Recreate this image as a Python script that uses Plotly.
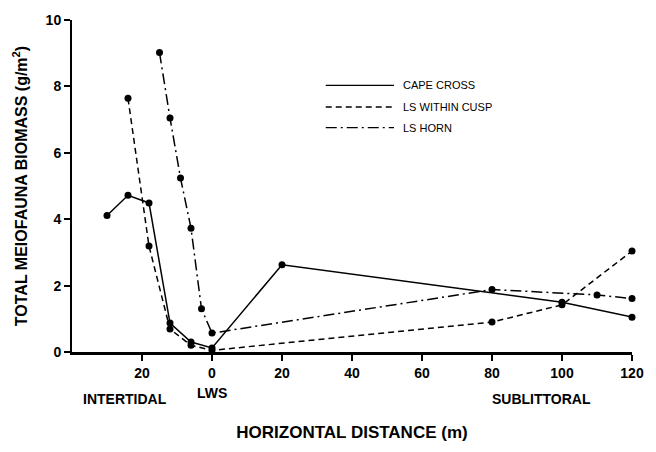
import plotly.graph_objects as go

# Data (horizontal distance in m; negative = intertidal side of LWS)
x_cape = [-30, -24, -18, -12, -6, 0, 20, 100, 120]
y_cape = [4.11, 4.72, 4.49, 0.87, 0.30, 0.12, 2.63, 1.50, 1.05]

x_cusp = [-24, -18, -12, -6, 0, 80, 100, 120]
y_cusp = [7.64, 3.19, 0.69, 0.20, 0.05, 0.90, 1.42, 3.04]

x_horn = [-15, -12, -9, -6, -3, 0, 80, 110, 120]
y_horn = [9.02, 7.05, 5.24, 3.73, 1.30, 0.57, 1.88, 1.72, 1.61]

series_names = ["CAPE CROSS", "LS WITHIN CUSP", "LS HORN"]

x_tickvals = [-20, 0, 20, 40, 60, 80, 100, 120]
x_ticktext = ["20", "0", "20", "40", "60", "80", "100", "120"]
y_tickvals = [0, 2, 4, 6, 8, 10]

FONT = "Liberation Sans, Arial, sans-serif"
dashes = ["solid", "6px,4px", "11px,4px,2px,4px"]

W, H = 656, 452
L, R, T, B = 72, 15, 17, 75
PW, PH = W - L - R, H - T - B


def px2paper(xp, yp):
    return (xp - L) / PW, (H - B - yp) / PH


fig = go.Figure()
for xs, ys, name, dash in zip([x_cape, x_cusp, x_horn], [y_cape, y_cusp, y_horn], series_names, dashes):
    fig.add_trace(go.Scatter(
        x=xs, y=ys, name=name, mode="lines+markers",
        line=dict(color="black", width=1.5, dash=dash),
        marker=dict(color="black", size=7),
        showlegend=False, cliponaxis=False,
    ))

# Manual legend (line samples + labels)
leg_y = [8.03, 7.38, 6.76]
for yy, name, dash in zip(leg_y, series_names, dashes):
    fig.add_shape(type="line", xref="x", yref="y", x0=32.5, x1=52, y0=yy, y1=yy,
                  line=dict(color="black", width=1.3, dash=dash))
    fig.add_annotation(x=54, y=yy, xref="x", yref="y", text=name, showarrow=False,
                       xanchor="left", yanchor="middle",
                       font=dict(family=FONT, size=11, color="black"))

# Zone labels
for txt, xp, yp in [("INTERTIDAL", 126, 428), ("LWS", 214, 421), ("SUBLITTORAL", 549, 428)]:
    xx, yy = px2paper(xp, yp)
    fig.add_annotation(x=xx, y=yy, xref="paper", yref="paper",
                       text=txt, showarrow=False, xanchor="center", yanchor="middle",
                       font=dict(family=FONT, size=14, color="black", weight="bold"))

fig.update_layout(
    width=W, height=H,
    margin=dict(l=L, r=R, t=T, b=B),
    paper_bgcolor="white", plot_bgcolor="white",
    font=dict(family=FONT, color="black"),
    xaxis=dict(
        range=[-40, 120], tickvals=x_tickvals, ticktext=x_ticktext,
        showgrid=False, zeroline=False, showline=True, linecolor="black", linewidth=3,
        ticks="outside", ticklen=6, tickwidth=2, tickcolor="black",
        tickfont=dict(family=FONT, size=14, color="black", weight="bold"),
        title=dict(text="HORIZONTAL DISTANCE (m)", standoff=47,
                   font=dict(family=FONT, size=17, color="black", weight="bold")),
    ),
    yaxis=dict(
        range=[0, 10], tickvals=y_tickvals,
        showgrid=False, zeroline=False, showline=True, linecolor="black", linewidth=2,
        ticks="outside", ticklen=6, tickwidth=2, tickcolor="black",
        tickfont=dict(family=FONT, size=14, color="black", weight="bold"),
        title=dict(text="TOTAL MEIOFAUNA BIOMASS (g/m<sup>2</sup>)", standoff=14,
                   font=dict(family=FONT, size=16, color="black", weight="bold")),
    ),
)

fig.write_html("out.html", config={"displayModeBar": False},
               post_script="document.body.style.margin='0';")
